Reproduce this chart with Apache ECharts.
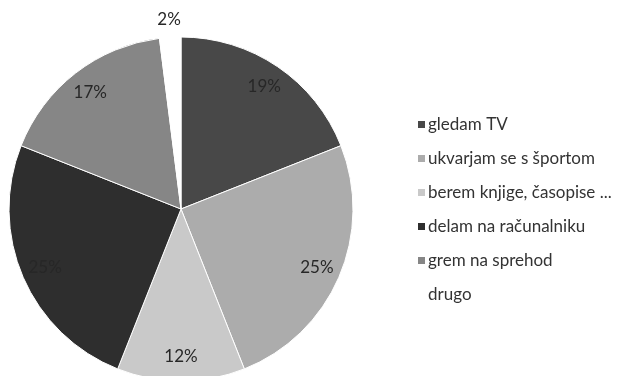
<!DOCTYPE html>
<html>
<head>
<meta charset="utf-8">
<script src="https://cdn.jsdelivr.net/npm/echarts@6/dist/echarts.min.js"></script>
<style>
  html, body { margin: 0; padding: 0; background: #ffffff; }
  #chart { width: 621px; height: 376px; }
</style>
</head>
<body>
<div id="chart"></div>
<script>
// Kaj počnem v prostem času – deleži odgovorov (%)
const categories = ['gledam TV', 'ukvarjam se s športom', 'berem knjige, časopise ...', 'delam na računalniku', 'grem na sprehod', 'drugo'];
const shares = [19, 25, 12, 25, 17, 2];
const sliceColors = ['#484848', '#acacac', '#c9c9c9', '#2e2e2e', '#868686', '#ffffff'];

const FONT = 'Lato, "Open Sans", sans-serif';
const CENTER = [181, 209];
const R = 172;

const pieData = categories.map((name, i) => ({
  name,
  value: shares[i],
  itemStyle: { color: sliceColors[i] }
}));

// transparent rings that only carry the percentage labels
const labelRing = categories.map((name, i) => ({
  name,
  value: shares[i],
  label: { show: i !== categories.length - 1 }
}));
const outerRing = categories.map((name, i) => ({
  name,
  value: shares[i],
  label: { show: i === categories.length - 1 }
}));

const labelStyle = {
  position: 'inside',
  formatter: p => p.value + '%',
  color: '#272727',
  fontFamily: FONT,
  fontSize: 17
};

const chart = echarts.init(document.getElementById('chart'), null, { renderer: 'canvas' });
chart.setOption({
  backgroundColor: '#ffffff',
  animation: false,
  legend: {
    orient: 'vertical',
    left: 411,
    top: 111,
    icon: 'rect',
    itemWidth: 9,
    itemHeight: 9,
    itemGap: 17,
    data: categories,
    textStyle: { color: '#333333', fontFamily: FONT, fontSize: 17, padding: [0, 0, 0, -3] }
  },
  series: [
    {
      type: 'pie',
      center: CENTER,
      radius: R,
      startAngle: 90,
      clockwise: true,
      silent: true,
      label: { show: false },
      labelLine: { show: false },
      itemStyle: { borderColor: '#ffffff', borderWidth: 1 },
      data: pieData
    },
    {
      type: 'pie',
      center: CENTER,
      radius: [118, R],
      startAngle: 90,
      clockwise: true,
      silent: true,
      legendHoverLink: false,
      itemStyle: { color: 'rgba(0,0,0,0)' },
      label: labelStyle,
      labelLine: { show: false },
      data: labelRing
    },
    {
      type: 'pie',
      center: CENTER,
      radius: [R, 202],
      startAngle: 90,
      clockwise: true,
      silent: true,
      legendHoverLink: false,
      itemStyle: { color: 'rgba(0,0,0,0)' },
      label: labelStyle,
      labelLine: { show: false },
      data: outerRing
    }
  ]
});
</script>
</body>
</html>
